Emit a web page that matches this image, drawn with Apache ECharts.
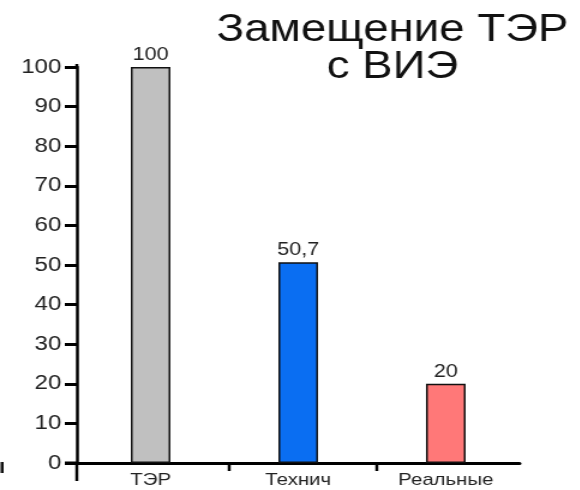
<!DOCTYPE html>
<html>
<head>
<meta charset="utf-8">
<script src="https://cdn.jsdelivr.net/npm/echarts@6/dist/echarts.min.js"></script>
<style>
  html, body { margin: 0; padding: 0; background: #fff; overflow: hidden; }
  /* the chart is laid out narrower and widened, giving the broad lettering */
  #wrap { width: 580px; height: 490px; overflow: hidden; }
  #chart { width: 484px; height: 490px; transform: scaleX(1.2); transform-origin: 0 0; }
</style>
</head>
<body>
<div id="wrap"><div id="chart"></div></div>
<script>
// Chart data
const categories = ['ТЭР', 'Технич', 'Реальные'];
const values = [100, 50.7, 20];
const barColors = ['#c0c0c0', '#0a6ef2', '#ff7878'];
const yMin = 0;
const yMax = 100;
const yStep = 10;
const titleText = 'Замещение ТЭР\nс ВИЭ';

const FONT = '"Liberation Sans", Arial, sans-serif';
const chart = echarts.init(document.getElementById('chart'));

const option = {
  backgroundColor: '#ffffff',
  animation: false,
  title: {
    text: titleText,
    left: 322,
    top: 7,
    textAlign: 'center',
    textStyle: {
      fontFamily: FONT,
      fontSize: 38,
      lineHeight: 37,
      fontWeight: 'normal',
      color: '#111'
    }
  },
  grid: { left: 64, right: 51, top: 67, bottom: 27, containLabel: false },
  xAxis: {
    type: 'category',
    data: categories,
    axisLine: { lineStyle: { color: '#000', width: 3 } },
    axisTick: { show: false },
    axisLabel: {
      margin: 9,
      fontFamily: FONT,
      fontSize: 17,
      color: '#222'
    },
    splitLine: { show: false }
  },
  yAxis: {
    type: 'value',
    min: yMin,
    max: yMax,
    interval: yStep,
    axisLine: { show: true, lineStyle: { color: '#000', width: 2.5 } },
    axisTick: { show: true, inside: false, length: 10, lineStyle: { color: '#000', width: 3 } },
    axisLabel: {
      margin: 13,
      fontFamily: FONT,
      fontSize: 20,
      color: '#222'
    },
    splitLine: { show: false }
  },
  series: [{
    type: 'bar',
    data: values.map((v, i) => ({ value: v, itemStyle: { color: barColors[i] } })),
    barWidth: 33,
    itemStyle: { borderColor: '#111', borderWidth: 1.5 },
    label: {
      show: true,
      position: 'top',
      distance: 3,
      fontFamily: FONT,
      fontSize: 18,
      color: '#222',
      formatter: p => String(p.value).replace('.', ',')
    }
  }]
};

chart.setOption(option);

// Axis extensions and tick marks between categories, placed from the axis scales
const yZero = chart.convertToPixel({ yAxisIndex: 0 }, yMin);
const yTop = chart.convertToPixel({ yAxisIndex: 0 }, yMax);
const xLeft = option.grid.left;
const centers = categories.map((c, i) => chart.convertToPixel({ xAxisIndex: 0 }, i));
const graphics = [
  { type: 'line', shape: { x1: xLeft, y1: yZero, x2: xLeft, y2: yZero + 18 },
    style: { stroke: '#000', lineWidth: 2.5 } },
  { type: 'line', shape: { x1: xLeft, y1: yTop, x2: xLeft, y2: yTop - 3 },
    style: { stroke: '#000', lineWidth: 2.5 } },
  { type: 'line', shape: { x1: xLeft - 10, y1: yZero, x2: xLeft, y2: yZero },
    style: { stroke: '#000', lineWidth: 3 } },
  { type: 'rect', shape: { x: 0.5, y: yZero - 1, width: 2.5, height: 11 },
    style: { fill: '#111' } }
];
for (let i = 0; i < centers.length - 1; i++) {
  const bx = (centers[i] + centers[i + 1]) / 2 + 4;
  graphics.push({ type: 'line', shape: { x1: bx, y1: yZero, x2: bx, y2: yZero + 8 },
    style: { stroke: '#000', lineWidth: 2.5 } });
}
chart.setOption({ graphic: graphics });
</script>
</body>
</html>
